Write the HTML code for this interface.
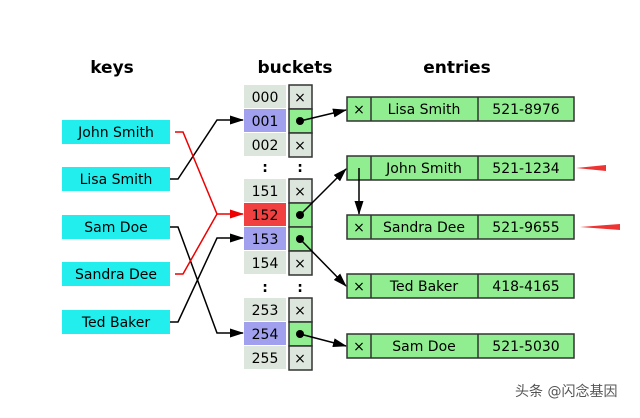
<!DOCTYPE html>
<html><head><meta charset="utf-8"><style>
body{margin:0;background:#fff;}
svg text{font-family:"DejaVu Sans","Liberation Sans",sans-serif;}
</style></head><body>
<svg width="640" height="413" viewBox="0 0 640 413" xmlns="http://www.w3.org/2000/svg">
<defs>
<marker id="ab" markerWidth="14" markerHeight="9" refX="13" refY="4.5" orient="auto" markerUnits="userSpaceOnUse"><path d="M0,0 L14,4.5 L0,9 z" fill="#000"/></marker>
<marker id="ar" markerWidth="14" markerHeight="9" refX="13" refY="4.5" orient="auto" markerUnits="userSpaceOnUse"><path d="M0,0 L14,4.5 L0,9 z" fill="#e00"/></marker>
</defs>
<g font-weight="bold" font-size="17" text-anchor="middle" fill="#000">
<text x="112" y="73">keys</text><text x="295" y="73">buckets</text><text x="457" y="73">entries</text>
</g>
<g font-size="14" text-anchor="middle">
<rect x="62" y="120" width="108" height="24" fill="#22eeee"/><text x="116" y="137">John Smith</text>
<rect x="62" y="167" width="108" height="24" fill="#22eeee"/><text x="116" y="184">Lisa Smith</text>
<rect x="62" y="215" width="108" height="24" fill="#22eeee"/><text x="116" y="232">Sam Doe</text>
<rect x="62" y="262" width="108" height="24" fill="#22eeee"/><text x="116" y="279">Sandra Dee</text>
<rect x="62" y="310" width="108" height="24" fill="#22eeee"/><text x="116" y="327">Ted Baker</text>
</g>
<g font-size="14" text-anchor="middle">
<rect x="244" y="85" width="42" height="23" fill="#dde6dd"/><text x="265" y="102">000</text>
<rect x="244" y="109" width="42" height="23" fill="#a0a0ee"/><text x="265" y="126">001</text>
<rect x="244" y="133" width="42" height="23" fill="#dde6dd"/><text x="265" y="150">002</text>
<text x="265" y="172" font-weight="bold">:</text><text x="300" y="172" font-weight="bold">:</text>
<rect x="244" y="179" width="42" height="23" fill="#dde6dd"/><text x="265" y="196">151</text>
<rect x="244" y="203" width="42" height="23" fill="#f04040"/><text x="265" y="220">152</text>
<rect x="244" y="227" width="42" height="23" fill="#a0a0ee"/><text x="265" y="244">153</text>
<rect x="244" y="251" width="42" height="23" fill="#dde6dd"/><text x="265" y="268">154</text>
<text x="265" y="292" font-weight="bold">:</text><text x="300" y="292" font-weight="bold">:</text>
<rect x="244" y="298" width="42" height="23" fill="#dde6dd"/><text x="265" y="315">253</text>
<rect x="244" y="322" width="42" height="23" fill="#a0a0ee"/><text x="265" y="339">254</text>
<rect x="244" y="346" width="42" height="23" fill="#dde6dd"/><text x="265" y="363">255</text>
</g>
<g stroke="#333" stroke-width="1.5" font-size="14" text-anchor="middle">
<rect x="289" y="85" width="23" height="24" fill="#dde6dd"/>
<rect x="289" y="109" width="23" height="24" fill="#90ee90"/>
<rect x="289" y="133" width="23" height="24" fill="#dde6dd"/>
<rect x="289" y="179" width="23" height="24" fill="#dde6dd"/>
<rect x="289" y="203" width="23" height="24" fill="#90ee90"/>
<rect x="289" y="227" width="23" height="24" fill="#90ee90"/>
<rect x="289" y="251" width="23" height="24" fill="#dde6dd"/>
<rect x="289" y="298" width="23" height="24" fill="#dde6dd"/>
<rect x="289" y="322" width="23" height="24" fill="#90ee90"/>
<rect x="289" y="346" width="23" height="24" fill="#dde6dd"/>
</g>
<g font-size="14" text-anchor="middle">
<text x="300" y="102">×</text><text x="300" y="150">×</text><text x="300" y="196">×</text><text x="300" y="268">×</text><text x="300" y="315">×</text><text x="300" y="363">×</text>
</g>
<g fill="#000"><circle cx="300" cy="121" r="4"/><circle cx="300" cy="215" r="4"/><circle cx="300" cy="239" r="4"/><circle cx="300" cy="334" r="4"/><circle cx="359" cy="168" r="4"/></g>
<g stroke="#333" stroke-width="1.5" fill="#90ee90">
<rect x="347" y="97" width="227" height="24"/><line x1="371" y1="97" x2="371" y2="121"/><line x1="478" y1="97" x2="478" y2="121"/>
<rect x="347" y="156" width="227" height="24"/><line x1="371" y1="156" x2="371" y2="180"/><line x1="478" y1="156" x2="478" y2="180"/>
<rect x="347" y="215" width="227" height="24"/><line x1="371" y1="215" x2="371" y2="239"/><line x1="478" y1="215" x2="478" y2="239"/>
<rect x="347" y="274" width="227" height="24"/><line x1="371" y1="274" x2="371" y2="298"/><line x1="478" y1="274" x2="478" y2="298"/>
<rect x="347" y="334" width="227" height="24"/><line x1="371" y1="334" x2="371" y2="358"/><line x1="478" y1="334" x2="478" y2="358"/>
</g>
<g font-size="14" text-anchor="middle">
<text x="359" y="114">×</text><text x="424" y="114">Lisa Smith</text><text x="526" y="114">521-8976</text>
<text x="424" y="173">John Smith</text><text x="526" y="173">521-1234</text>
<text x="359" y="232">×</text><text x="424" y="232">Sandra Dee</text><text x="526" y="232">521-9655</text>
<text x="359" y="291">×</text><text x="424" y="291">Ted Baker</text><text x="526" y="291">418-4165</text>
<text x="359" y="351">×</text><text x="424" y="351">Sam Doe</text><text x="526" y="351">521-5030</text>
</g>
<g stroke="#000" stroke-width="1.5" fill="none">
<polyline points="170,179 178,179 217,120 243,120" marker-end="url(#ab)"/>
<polyline points="170,227 178,227 217,333 243,333" marker-end="url(#ab)"/>
<polyline points="170,322 178,322 217,238 243,238" marker-end="url(#ab)"/>
<line x1="300" y1="121" x2="346" y2="110" marker-end="url(#ab)"/>
<line x1="300" y1="215" x2="346" y2="169" marker-end="url(#ab)"/>
<line x1="300" y1="239" x2="346" y2="286" marker-end="url(#ab)"/>
<line x1="300" y1="334" x2="346" y2="346" marker-end="url(#ab)"/>
<line x1="359" y1="168" x2="359" y2="214" marker-end="url(#ab)"/>
</g>
<g stroke="#e00" stroke-width="1.5" fill="none">
<polyline points="175,132 183,132 217,214 243,214" marker-end="url(#ar)"/>
<polyline points="175,274 183,274 217,214"/>
</g>
<path d="M576,168 L606,165 L606,171 z" fill="#e33"/>
<path d="M580,227 L620,224 L620,230 z" fill="#e33"/>
<text x="515" y="396" font-size="14" fill="#555" font-family="'Liberation Sans','Noto Sans CJK SC',sans-serif">头条 @闪念基因</text>
</svg>
</body></html>
